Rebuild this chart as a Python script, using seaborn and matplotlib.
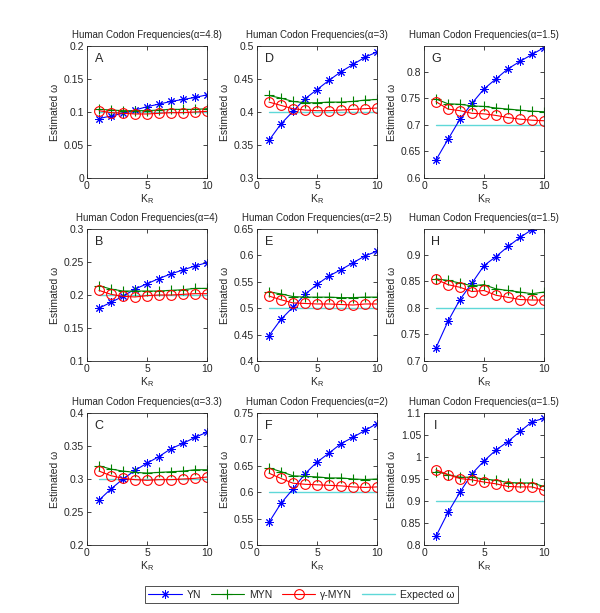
import matplotlib.pyplot as plt
import seaborn as sns
from matplotlib.ticker import FuncFormatter

# --- data ---
K_R = [1, 2, 3, 4, 5, 6, 7, 8, 9, 10]

# panel A (alpha=4.8, expected 0.1)
yn_a = [0.090, 0.094, 0.098, 0.103, 0.108, 0.112, 0.116, 0.119, 0.122, 0.126]
myn_a = [0.104, 0.103, 0.102, 0.102, 0.102, 0.103, 0.104, 0.104, 0.104, 0.105]
gmyn_a = [0.102, 0.099, 0.098, 0.097, 0.097, 0.098, 0.099, 0.099, 0.100, 0.101]
# panel B (alpha=4, expected 0.2)
yn_b = [0.180, 0.189, 0.198, 0.209, 0.217, 0.225, 0.232, 0.238, 0.244, 0.249]
myn_b = [0.214, 0.209, 0.206, 0.206, 0.206, 0.206, 0.207, 0.208, 0.210, 0.210]
gmyn_b = [0.207, 0.201, 0.198, 0.197, 0.199, 0.200, 0.200, 0.201, 0.202, 0.202]
# panel C (alpha=3.3, expected 0.3)
yn_c = [0.268, 0.285, 0.300, 0.313, 0.324, 0.334, 0.346, 0.354, 0.363, 0.371]
myn_c = [0.320, 0.315, 0.312, 0.310, 0.309, 0.310, 0.311, 0.312, 0.314, 0.314]
gmyn_c = [0.312, 0.305, 0.301, 0.299, 0.298, 0.299, 0.299, 0.300, 0.301, 0.303]
# panel D (alpha=3, expected 0.4)
yn_d = [0.357, 0.382, 0.401, 0.420, 0.434, 0.448, 0.461, 0.472, 0.483, 0.491]
myn_d = [0.425, 0.421, 0.416, 0.414, 0.414, 0.415, 0.415, 0.416, 0.418, 0.419]
gmyn_d = [0.415, 0.410, 0.405, 0.403, 0.402, 0.402, 0.403, 0.404, 0.405, 0.406]
# panel E (alpha=2.5, expected 0.5)
yn_e = [0.448, 0.479, 0.502, 0.526, 0.545, 0.561, 0.573, 0.586, 0.599, 0.608]
myn_e = [0.531, 0.527, 0.522, 0.521, 0.521, 0.521, 0.520, 0.520, 0.521, 0.521]
gmyn_e = [0.523, 0.516, 0.510, 0.509, 0.508, 0.508, 0.507, 0.506, 0.508, 0.508]
# panel F (alpha=2, expected 0.6)
yn_f = [0.543, 0.579, 0.606, 0.635, 0.657, 0.674, 0.692, 0.704, 0.717, 0.730]
myn_f = [0.646, 0.639, 0.631, 0.630, 0.629, 0.627, 0.627, 0.625, 0.624, 0.625]
gmyn_f = [0.636, 0.626, 0.617, 0.615, 0.614, 0.613, 0.612, 0.610, 0.609, 0.610]
# panel G (alpha=1.5, expected 0.7)
yn_g = [0.634, 0.673, 0.711, 0.741, 0.768, 0.787, 0.806, 0.820, 0.833, 0.846]
myn_g = [0.749, 0.740, 0.739, 0.736, 0.735, 0.732, 0.730, 0.728, 0.726, 0.725]
gmyn_g = [0.744, 0.730, 0.727, 0.722, 0.721, 0.718, 0.714, 0.711, 0.709, 0.708]
# panel H (alpha=1.5, expected 0.8)
yn_h = [0.725, 0.775, 0.816, 0.847, 0.880, 0.897, 0.916, 0.933, 0.948, 0.962]
myn_h = [0.855, 0.852, 0.847, 0.842, 0.844, 0.836, 0.833, 0.830, 0.827, 0.830]
gmyn_h = [0.854, 0.844, 0.839, 0.831, 0.833, 0.824, 0.820, 0.816, 0.815, 0.815]
# panel I (alpha=1.5, expected 0.9)
yn_i = [0.820, 0.874, 0.920, 0.962, 0.991, 1.016, 1.035, 1.058, 1.080, 1.088]
myn_i = [0.967, 0.960, 0.954, 0.954, 0.950, 0.947, 0.942, 0.941, 0.941, 0.933]
gmyn_i = [0.971, 0.960, 0.951, 0.948, 0.943, 0.939, 0.933, 0.932, 0.932, 0.924]

LETTERS = ['A', 'B', 'C', 'D', 'E', 'F', 'G', 'H', 'I']
ALPHAS = ['4.8', '4', '3.3', '3', '2.5', '2', '1.5', '1.5', '1.5']
EXPECTED = [0.1, 0.2, 0.3, 0.4, 0.5, 0.6, 0.7, 0.8, 0.9]
YLIMS = [(0, 0.2), (0.1, 0.3), (0.2, 0.4), (0.3, 0.5), (0.4, 0.65),
         (0.5, 0.75), (0.6, 0.849), (0.7, 0.949), (0.8, 1.1)]
YTICKS = [[0, 0.05, 0.1, 0.15, 0.2], [0.1, 0.15, 0.2, 0.25, 0.3],
          [0.2, 0.25, 0.3, 0.35, 0.4], [0.3, 0.35, 0.4, 0.45, 0.5],
          [0.4, 0.45, 0.5, 0.55, 0.6, 0.65], [0.5, 0.55, 0.6, 0.65, 0.7, 0.75],
          [0.6, 0.65, 0.7, 0.75, 0.8], [0.7, 0.75, 0.8, 0.85, 0.9],
          [0.8, 0.85, 0.9, 0.95, 1, 1.05, 1.1]]
YN = [yn_a, yn_b, yn_c, yn_d, yn_e, yn_f, yn_g, yn_h, yn_i]
MYN = [myn_a, myn_b, myn_c, myn_d, myn_e, myn_f, myn_g, myn_h, myn_i]
GMYN = [gmyn_a, gmyn_b, gmyn_c, gmyn_d, gmyn_e, gmyn_f, gmyn_g, gmyn_h, gmyn_i]

# --- style ---
sns.set_style("ticks")
plt.rcParams['font.family'] = ['Liberation Sans', 'DejaVu Sans']
plt.rcParams['xtick.direction'] = 'in'
plt.rcParams['ytick.direction'] = 'in'
FS = 7.5

C_YN = '#0000ff'
C_MYN = '#008000'
C_GMYN = '#ff0000'
C_EXP = '#5fd8d8'
ASTERISK = (8, 2, 0)  # matlab-style '*'

fig = plt.figure(figsize=(6.0, 6.13), dpi=100)

# axes grid in pixels (left, top) of the reference; panels go down columns
col_left = [87, 257, 424]
row_top = [46, 229, 413]
W, H = 120, 132

fmt = FuncFormatter(lambda v, p: f"{v:g}")
axes = []
for i in range(9):
    col, row = divmod(i, 3)
    left = col_left[col] / 600
    bottom = 1 - (row_top[row] + H) / 613
    ax = fig.add_axes([left, bottom, W / 600, H / 613])
    axes.append(ax)

    sns.lineplot(x=K_R, y=[EXPECTED[i]] * len(K_R), ax=ax, color=C_EXP,
                 linewidth=1.0, label='Expected ω', legend=False)
    sns.lineplot(x=K_R, y=YN[i], ax=ax, color=C_YN, linewidth=0.8,
                 marker=ASTERISK, markersize=6, mec=C_YN, mew=0.7,
                 label='YN', legend=False)
    sns.lineplot(x=K_R, y=MYN[i], ax=ax, color=C_MYN, linewidth=0.8,
                 marker='+', markersize=7, mec=C_MYN, mew=0.8,
                 label='MYN', legend=False)
    sns.lineplot(x=K_R, y=GMYN[i], ax=ax, color=C_GMYN, linewidth=0.8,
                 marker='o', markersize=7, mec=C_GMYN, mfc='none', mew=0.8,
                 label='γ-MYN', legend=False)

    ax.set_xlim(0, 10)
    ax.set_xticks([0, 5, 10])
    ax.set_ylim(*YLIMS[i])
    ax.set_yticks(YTICKS[i])
    ax.yaxis.set_major_formatter(fmt)
    ax.tick_params(labelsize=FS, length=3, width=0.6, top=True, right=True,
                   pad=2)
    for s in ax.spines.values():
        s.set_linewidth(0.6)
        s.set_visible(True)
    ax.set_title(f"Human Codon Frequencies(α={ALPHAS[i]})", fontsize=7,
                 pad=5.5)
    ax.set_xlabel(r'K$_\mathregular{R}$', fontsize=FS, labelpad=1)
    ax.set_ylabel('Estimated ω', fontsize=FS, labelpad=3)
    ax.text(0.1, 0.9, LETTERS[i], transform=ax.transAxes, fontsize=9,
            ha='center', va='center')

handles, labels = axes[0].get_legend_handles_labels()
order = [labels.index(n) for n in ['YN', 'MYN', 'γ-MYN', 'Expected ω']]
leg = fig.legend([handles[k] for k in order], [labels[k] for k in order],
                 loc='center', bbox_to_anchor=(301.5 / 600, 1 - 594.5 / 613),
                 ncol=4, fontsize=FS, frameon=True, fancybox=False,
                 edgecolor='black', handlelength=3.2, columnspacing=0.9,
                 handletextpad=0.5, borderpad=0.35)
leg.get_frame().set_linewidth(0.6)

fig.savefig('out.png', dpi=100)
